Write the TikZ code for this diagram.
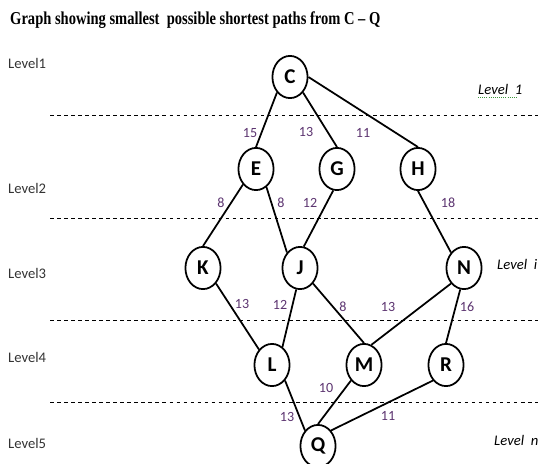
\documentclass[tikz,border=0pt]{standalone}
\usepackage{fontspec}
\setmainfont{Carlito}
\newfontfamily\titlefont{Liberation Serif}
\usetikzlibrary{shapes.geometric}

\definecolor{wcol}{RGB}{92,52,112}
\definecolor{spell}{RGB}{60,150,60}

\begin{document}
\begin{tikzpicture}[x=0.03cm,y=-0.03cm,
  vert/.style={ellipse,draw,line width=1.5pt,minimum width=30,minimum height=36,inner sep=0pt,font=\fontsize{18}{20}\selectfont\bfseries},
  edge/.style={line width=1.5pt},
  wt/.style={text=wcol,font=\fontsize{12}{14}\selectfont,inner sep=1pt},
  lvl/.style={anchor=west,text=black!80,font=\fontsize{12.5}{14}\selectfont,inner sep=0pt},
  rlvl/.style={anchor=west,font=\fontsize{12.5}{14}\selectfont\itshape,inner sep=0pt},
  sep/.style={dashed,line width=0.6pt}]
\useasboundingbox (0,0) rectangle (538,463);

% title
\node[anchor=west,inner sep=0pt] (title) at (10,20)
  {\scalebox{0.8}[1]{\titlefont\fontsize{15.5}{17}\selectfont\bfseries Graph showing smallest\ \ possible shortest paths from C – Q}};

% level separators
\foreach \yy in {115,218,320,402}
  \draw[sep] (50,\yy) -- (538,\yy);

% level names
\node[lvl] (l1) at (8,63) {Level1};
\node[lvl] (l2) at (8,188) {Level2};
\node[lvl] (l3) at (8,273) {Level3};
\node[lvl] (l4) at (8,357) {Level4};
\node[lvl] (l5) at (8,443) {Level5};

\node[rlvl] (r1) at (478,89) {Level\hspace{0.45em}1};
\draw[spell,densely dotted,line width=0.8pt] (r1.south west) ++(0,3) -- ++(38,0);
\node[rlvl] (ri) at (497,264) {Level\hspace{0.45em}i};
\node[rlvl] (rn) at (494,440) {Level\hspace{0.45em}n};

% vertices
\node[vert] (C) at (290,77) {C};
\node[vert] (E) at (256,169) {E};
\node[vert] (G) at (337,169) {G};
\node[vert] (H) at (418,169) {H};
\node[vert] (K) at (203,268) {K};
\node[vert] (J) at (300,268) {J};
\node[vert] (N) at (464,268) {N};
\node[vert] (L) at (272,365) {L};
\node[vert] (M) at (364,365) {M};
\node[vert] (R) at (446,365) {R};
\node[vert] (Q) at (318,446) {Q};

% edges
\foreach \a/\b in {C.south west/E.north,C.south east/G.north,C.east/H.north,
    E.south west/K.north,E.-60/J.north west,G.-100/J.80,H.south/N.north west,
    K.south east/L.north west,J.-100/L.60,J.south east/M.north,N.south west/M.70,N.-100/R.north,
    L.south east/Q.north west,M.south west/Q.north,R.south west/Q.north east}
  \draw[edge] (\a) -- (\b);

% weights
\node[wt] (w1) at (250,133) {15};
\node[wt] (w2) at (306,132) {13};
\node[wt] (w3) at (363,133) {11};
\node[wt] (w4) at (221,203) {8};
\node[wt] (w5) at (281,203) {8};
\node[wt] (w6) at (310,203) {12};
\node[wt] (w7) at (448,203) {18};
\node[wt] (w8) at (242,304) {13};
\node[wt] (w9) at (280,305) {12};
\node[wt] (w10) at (343,307) {8};
\node[wt] (w11) at (388,307) {13};
\node[wt] (w12) at (467,307) {16};
\node[wt] (w13) at (326,388) {10};
\node[wt] (w14) at (287,417) {13};
\node[wt] (w15) at (388,416) {11};
\end{tikzpicture}
\end{document}
